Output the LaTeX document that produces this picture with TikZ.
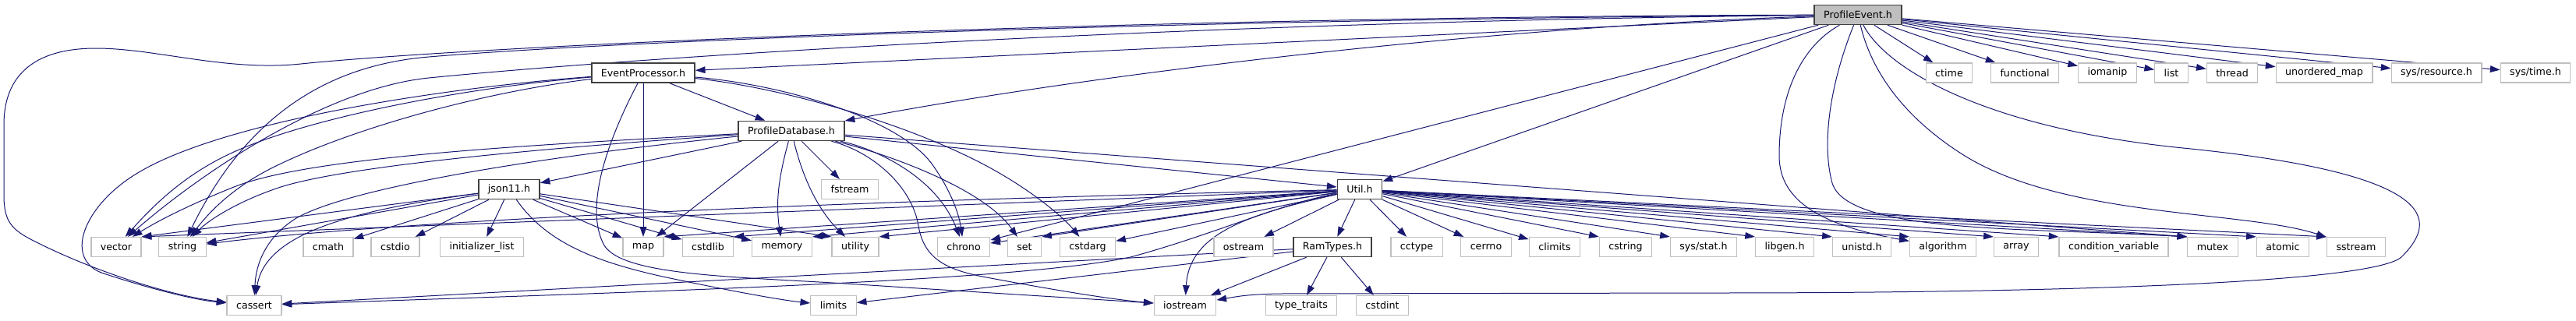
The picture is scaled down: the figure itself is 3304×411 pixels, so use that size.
\documentclass[tikz,border=0pt]{standalone}
\usepackage{fontspec}
\setmainfont{DejaVu Sans}
\usepackage{tikz}
\usepackage{xcolor}
\usetikzlibrary{arrows.meta, backgrounds}
\definecolor{dox-edge}{RGB}{25,25,112}
\definecolor{dox-grey}{RGB}{191,191,191}
\definecolor{dox-dark}{RGB}{64,64,64}

\begin{document}
\begin{tikzpicture}[
  x=0.75pt, y=-0.75pt,
  syshdr/.style={draw=dox-grey, fill=white, line width=0.9pt, minimum height=18.75pt, inner xsep=9pt, inner ysep=0pt, font=\fontsize{9.5}{11}\selectfont},
  projhdr/.style={syshdr, draw=dox-dark, line width=1.1pt},
  inc/.style={-{Triangle[length=9.5pt, width=6.5pt]}, dox-edge, line width=0.75pt},
]
  % Root
  \node[projhdr, fill=dox-grey] (event) at (2383,19) {ProfileEvent.h};

  % Project headers
  \node[projhdr] (proc) at (825,93.5) {EventProcessor.h};
  \node[projhdr] (db) at (1015,168) {ProfileDatabase.h};
  \node[projhdr] (json) at (653,243) {json11.h};
  \node[projhdr] (util) at (1744,243) {Util.h};
  \node[projhdr] (ram) at (1709,317) {RamTypes.h};

  % System headers, top row
  \node[syshdr] (ctime) at (2500,93.5) {ctime};
  \node[syshdr] (functional) at (2597,93.5) {functional};
  \node[syshdr] (iomanip) at (2703,93.5) {iomanip};
  \node[syshdr] (list) at (2785,93.5) {list};
  \node[syshdr] (thread) at (2863,93.5) {thread};
  \node[syshdr] (umap) at (2981,93.5) {unordered\_map};
  \node[syshdr] (sysres) at (3125,93.5) {sys/resource.h};
  \node[syshdr] (systime) at (3252,93.5) {sys/time.h};
  \node[syshdr] (fstream) at (1090,243) {fstream};

  % System headers, main row
  \node[syshdr] (vector) at (149,317) {vector};
  \node[syshdr] (string) at (234,317) {string};
  \node[syshdr] (cmath) at (421,317) {cmath};
  \node[syshdr] (cstdio) at (507,317) {cstdio};
  \node[syshdr] (initlist) at (618,317) {initializer\_list};
  \node[syshdr] (map) at (825,317) {map};
  \node[syshdr] (cstdlib) at (908,317) {cstdlib};
  \node[syshdr] (memory) at (1003,317) {memory};
  \node[syshdr] (utility) at (1097,317) {utility};
  \node[syshdr] (chrono) at (1236,317) {chrono};
  \node[syshdr] (set) at (1314,317) {set};
  \node[syshdr] (cstdarg) at (1395,317) {cstdarg};
  \node[syshdr] (ostream) at (1595,317) {ostream};
  \node[syshdr] (cctype) at (1817,317) {cctype};
  \node[syshdr] (cerrno) at (1906,317) {cerrno};
  \node[syshdr] (climits) at (1994,317) {climits};
  \node[syshdr] (cstring) at (2085,317) {cstring};
  \node[syshdr] (sysstat) at (2185,317) {sys/stat.h};
  \node[syshdr] (libgen) at (2289,317) {libgen.h};
  \node[syshdr] (unistd) at (2388,317) {unistd.h};
  \node[syshdr] (algorithm) at (2492,317) {algorithm};
  \node[syshdr] (array) at (2586,317) {array};
  \node[syshdr] (condvar) at (2711,317) {condition\_variable};
  \node[syshdr] (mutex) at (2838,317) {mutex};
  \node[syshdr] (atomic) at (2928,317) {atomic};
  \node[syshdr] (sstream) at (3022,317) {sstream};

  % System headers, bottom row
  \node[syshdr] (cassert) at (326,392) {cassert};
  \node[syshdr] (limits) at (1069,392) {limits};
  \node[syshdr] (iostream) at (1520,392) {iostream};
  \node[syshdr] (typetraits) at (1669,392) {type\_traits};
  \node[syshdr] (cstdint) at (1773,392) {cstdint};

  \begin{scope}[on background layer]
    \path[use as bounding box, fill=white] (0,0) rectangle (3304,411);

    % ProfileEvent.h deps
    \draw[inc] (event) -- (proc);
    \draw[inc] (event) .. controls (1900,35) and (1400,95) .. (db);
    \draw[inc] (event) -- (util);
    \draw[inc] (event) -- (chrono);
    \draw[inc] (event) .. controls (1400,22) and (600,60) .. (386,82) .. controls (290,92) and (200,62) .. (123,62) .. controls (40,62) and (5,100) .. (5,160) -- (5,250) .. controls (5,285) and (15,295) .. (45,310) .. controls (120,348) and (220,380) .. (cassert);
    \draw[inc] (event) .. controls (1500,25) and (800,52) .. (550,73) .. controls (430,83) and (320,140) .. (string);
    \draw[inc] (event) .. controls (1500,28) and (800,75) .. (550,100) .. controls (420,113) and (260,220) .. (vector);
    \draw[inc] (event) -- (ctime);
    \draw[inc] (event) -- (functional);
    \draw[inc] (event) -- (iomanip);
    \draw[inc] (event) -- (list);
    \draw[inc] (event) -- (thread);
    \draw[inc] (event) -- (umap);
    \draw[inc] (event) -- (sysres);
    \draw[inc] (event) -- (systime);
    \draw[inc] (event) .. controls (2310,60) and (2282,120) .. (2282,200) .. controls (2282,260) and (2340,290) .. (algorithm);
    \draw[inc] (event) .. controls (2350,100) and (2335,180) .. (2350,235) .. controls (2370,300) and (2600,292) .. (mutex.north west);
    \draw[inc] (event) .. controls (2400,90) and (2440,150) .. (2520,200) .. controls (2650,280) and (2880,270) .. (sstream);
    \draw[inc] (event) .. controls (2420,90) and (2550,165) .. (2800,190) .. controls (3150,225) and (3120,290) .. (3080,330) .. controls (3040,365) and (2600,376) .. (2200,376) -- (1640,377) .. controls (1600,378) and (1590,380) .. (iostream);

    % EventProcessor.h deps
    \draw[inc] (proc) -- (db);
    \draw[inc] (proc) -- (map);
    \draw[inc] (proc) .. controls (600,110) and (300,150) .. (180,220) .. controls (110,260) and (80,330) .. (130,350) .. controls (190,370) and (250,385) .. (cassert);
    \draw[inc] (proc) .. controls (600,112) and (400,150) .. (300,195) .. controls (240,222) and (200,260) .. (vector);
    \draw[inc] (proc) .. controls (620,118) and (450,165) .. (350,215) .. controls (300,240) and (270,270) .. (string);
    \draw[inc] (proc) .. controls (790,160) and (745,260) .. (775,315) .. controls (800,355) and (950,355) .. (1100,365) .. controls (1300,378) and (1420,385) .. (iostream);
    \draw[inc] (proc) .. controls (1000,108) and (1150,150) .. (1195,210) .. controls (1220,245) and (1230,275) .. (chrono);
    \draw[inc] (proc) .. controls (1000,112) and (1150,155) .. (1250,205) .. controls (1320,240) and (1365,280) .. (cstdarg);

    % ProfileDatabase.h deps
    \draw[inc] (db) -- (json);
    \draw[inc] (db) -- (util);
    \draw[inc] (db) -- (mutex.north west);
    \draw[inc] (db) -- (map);
    \draw[inc] (db) -- (fstream);
    \draw[inc] (db) .. controls (998,230) and (995,260) .. (memory);
    \draw[inc] (db) .. controls (1030,230) and (1050,270) .. (utility);
    \draw[inc] (db) .. controls (700,185) and (400,200) .. (300,240) .. controls (240,264) and (200,285) .. (vector);
    \draw[inc] (db) .. controls (700,190) and (450,212) .. (360,240) .. controls (300,260) and (265,285) .. (string);
    \draw[inc] (db) .. controls (700,200) and (450,240) .. (380,280) .. controls (340,305) and (328,340) .. (cassert);
    \draw[inc] (db) .. controls (1120,190) and (1200,225) .. (chrono);
    \draw[inc] (db) .. controls (1130,195) and (1260,240) .. (set);
    \draw[inc] (db) .. controls (1120,195) and (1170,240) .. (1178,290) .. controls (1185,330) and (1210,345) .. (1260,355) .. controls (1350,372) and (1430,385) .. (iostream);

    % json11.h deps
    \draw[inc] (json) -- (vector.north east);
    \draw[inc] (json) -- (string);
    \draw[inc] (json) -- (cmath);
    \draw[inc] (json) -- (cstdio);
    \draw[inc] (json) -- (initlist);
    \draw[inc] (json) -- (map);
    \draw[inc] (json) -- (cstdlib);
    \draw[inc] (json) -- (memory);
    \draw[inc] (json) -- (utility.north west);
    \draw[inc] (json) .. controls (450,270) and (340,300) .. (cassert);
    \draw[inc] (json) .. controls (700,310) and (760,335) .. (850,355) .. controls (930,372) and (1000,385) .. (limits);

    % Util.h deps
    \draw[inc] (util) -- (vector.north east);
    \draw[inc] (util) .. controls (900,262) and (450,290) .. (string);
    \draw[inc] (util) -- (map.north east);
    \draw[inc] (util) -- (cstdlib.north east);
    \draw[inc] (util) -- (memory.north east);
    \draw[inc] (util) -- (utility.north east);
    \draw[inc] (util) -- (chrono);
    \draw[inc] (util) -- (set.north east);
    \draw[inc] (util) -- (cstdarg);
    \draw[inc] (util) -- (ostream);
    \draw[inc] (util) -- (ram);
    \draw[inc] (util) -- (cctype);
    \draw[inc] (util) -- (cerrno);
    \draw[inc] (util) -- (climits);
    \draw[inc] (util) -- (cstring.north west);
    \draw[inc] (util) -- (sysstat.north west);
    \draw[inc] (util) -- (libgen.north west);
    \draw[inc] (util) -- (unistd.north west);
    \draw[inc] (util) -- (algorithm.north west);
    \draw[inc] (util) -- (array.north west);
    \draw[inc] (util) -- (condvar.north west);
    \draw[inc] (util) -- (mutex.north west);
    \draw[inc] (util) -- (atomic.north west);
    \draw[inc] (util) -- (sstream.north west);
    \draw[inc] (util) .. controls (1600,275) and (1525,300) .. (iostream);
    \draw[inc] (util) .. controls (1640,262) and (1560,300) .. (1450,330) .. controls (1300,362) and (800,375) .. (cassert);

    % RamTypes.h deps
    \draw[inc] (ram) -- (cassert);
    \draw[inc] (ram) -- (limits);
    \draw[inc] (ram) -- (iostream);
    \draw[inc] (ram) -- (typetraits);
    \draw[inc] (ram) -- (cstdint);
  \end{scope}
\end{tikzpicture}
\end{document}
